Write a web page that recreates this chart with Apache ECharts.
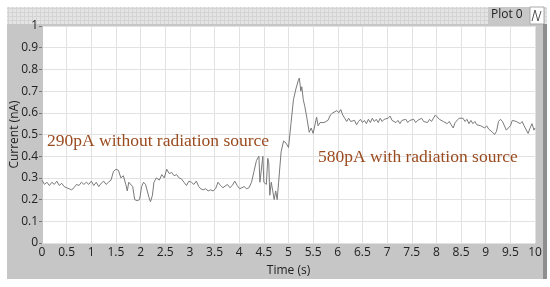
<!DOCTYPE html>
<html>
<head>
<meta charset="utf-8">
<script src="https://cdn.jsdelivr.net/npm/echarts@6/dist/echarts.min.js"></script>
<style>
  html, body { margin: 0; padding: 0; background: #fff; }
  #chart { width: 550px; height: 287px; }
</style>
</head>
<body>
<div id="chart"></div>
<script>
// time (s) and current (nA)
const timeS = [
  0.00, 0.05, 0.10, 0.15, 0.20, 0.25, 0.30, 0.35, 0.40, 0.45, 0.50, 0.55, 0.60, 0.65, 0.70, 0.75, 0.80, 0.85, 0.90, 0.95,
  1.00, 1.05, 1.10, 1.15, 1.20, 1.25, 1.30, 1.35, 1.40, 1.45, 1.50, 1.55, 1.60, 1.65, 1.70, 1.73, 1.76, 1.80, 1.84, 1.88,
  1.93, 1.98, 2.02, 2.06, 2.10, 2.13, 2.17, 2.20, 2.24, 2.27, 2.32, 2.38, 2.43, 2.48, 2.53, 2.58, 2.63, 2.68, 2.73, 2.78,
  2.83, 2.88, 2.93, 2.98, 3.03, 3.08, 3.13, 3.18, 3.22, 3.27, 3.32, 3.37, 3.42, 3.47, 3.52, 3.57, 3.62, 3.67, 3.71, 3.76,
  3.81, 3.86, 3.91, 3.96, 4.01, 4.05, 4.10, 4.15, 4.20, 4.25, 4.30, 4.35, 4.40, 4.42, 4.45, 4.48, 4.50, 4.55, 4.58, 4.60,
  4.62, 4.65, 4.68, 4.71, 4.74, 4.77, 4.80, 4.85, 4.90, 4.95, 5.00, 5.05, 5.10, 5.15, 5.20, 5.22, 5.25, 5.27, 5.30, 5.33,
  5.37, 5.42, 5.46, 5.50, 5.54, 5.57, 5.60, 5.64, 5.68, 5.72, 5.76, 5.80, 5.85, 5.90, 5.94, 5.98, 6.02, 6.06, 6.10, 6.14,
  6.18, 6.22, 6.26, 6.30, 6.34, 6.38, 6.42, 6.46, 6.50, 6.54, 6.58, 6.62, 6.66, 6.70, 6.74, 6.78, 6.82, 6.86, 6.90, 6.94,
  6.98, 7.02, 7.06, 7.10, 7.14, 7.18, 7.22, 7.26, 7.30, 7.34, 7.38, 7.42, 7.46, 7.50, 7.54, 7.58, 7.62, 7.66, 7.70, 7.74,
  7.78, 7.82, 7.86, 7.90, 7.94, 7.98, 8.02, 8.06, 8.10, 8.14, 8.18, 8.22, 8.26, 8.30, 8.34, 8.38, 8.42, 8.46, 8.50, 8.54,
  8.58, 8.62, 8.66, 8.70, 8.74, 8.78, 8.82, 8.86, 8.90, 8.94, 8.98, 9.02, 9.06, 9.10, 9.14, 9.18, 9.22, 9.26, 9.30, 9.34,
  9.38, 9.42, 9.46, 9.50, 9.54, 9.58, 9.62, 9.66, 9.70, 9.74, 9.78, 9.82, 9.86, 9.90, 9.94, 9.98, 10.00
];
const currentNA = [
  0.29, 0.27, 0.28, 0.265, 0.28, 0.27, 0.285, 0.265, 0.275, 0.26, 0.255, 0.25, 0.245, 0.255, 0.27, 0.265, 0.28, 0.27, 0.28, 0.27,
  0.285, 0.265, 0.28, 0.26, 0.275, 0.285, 0.27, 0.28, 0.29, 0.33, 0.34, 0.335, 0.30, 0.31, 0.27, 0.24, 0.28, 0.28, 0.26, 0.20,
  0.195, 0.20, 0.26, 0.28, 0.27, 0.27, 0.21, 0.19, 0.22, 0.28, 0.30, 0.29, 0.315, 0.30, 0.34, 0.32, 0.325, 0.31, 0.315, 0.30,
  0.295, 0.28, 0.265, 0.285, 0.28, 0.27, 0.285, 0.26, 0.25, 0.245, 0.25, 0.24, 0.245, 0.24, 0.25, 0.28, 0.265, 0.255, 0.25, 0.27,
  0.255, 0.265, 0.285, 0.265, 0.25, 0.245, 0.26, 0.25, 0.255, 0.28, 0.33, 0.38, 0.40, 0.28, 0.28, 0.40, 0.28, 0.27, 0.39, 0.37,
  0.22, 0.28, 0.24, 0.20, 0.24, 0.20, 0.28, 0.42, 0.47, 0.46, 0.44, 0.55, 0.66, 0.71, 0.75, 0.76, 0.70, 0.72, 0.66, 0.63,
  0.58, 0.51, 0.53, 0.505, 0.51, 0.58, 0.54, 0.555, 0.55, 0.555, 0.55, 0.565, 0.59, 0.60, 0.595, 0.61, 0.60, 0.615, 0.59, 0.575,
  0.56, 0.575, 0.56, 0.555, 0.565, 0.545, 0.56, 0.57, 0.555, 0.565, 0.55, 0.57, 0.555, 0.575, 0.56, 0.57, 0.555, 0.575, 0.56, 0.57,
  0.565, 0.575, 0.585, 0.565, 0.57, 0.555, 0.565, 0.55, 0.565, 0.56, 0.57, 0.555, 0.565, 0.56, 0.57, 0.555, 0.565, 0.56, 0.575, 0.56,
  0.565, 0.555, 0.57, 0.56, 0.575, 0.59, 0.595, 0.57, 0.575, 0.56, 0.565, 0.55, 0.56, 0.545, 0.53, 0.555, 0.56, 0.575, 0.57, 0.575,
  0.56, 0.57, 0.55, 0.565, 0.55, 0.56, 0.545, 0.55, 0.54, 0.545, 0.53, 0.54, 0.525, 0.53, 0.51, 0.50, 0.515, 0.56, 0.57, 0.56,
  0.565, 0.52, 0.515, 0.54, 0.565, 0.57, 0.56, 0.565, 0.55, 0.56, 0.54, 0.545, 0.505, 0.53, 0.55, 0.52, 0.53
];
const xTicks = [0, 0.5, 1, 1.5, 2, 2.5, 3, 3.5, 4, 4.5, 5, 5.5, 6, 6.5, 7, 7.5, 8, 8.5, 9, 9.5, 10];
const annotations = ['290pA without radiation source', '580pA with radiation source'];

const chart = echarts.init(document.getElementById('chart'));

// small checker pattern for the header strip
const pat = document.createElement('canvas');
pat.width = 4; pat.height = 4;
const pc = pat.getContext('2d');
pc.fillStyle = '#e4e4e4'; pc.fillRect(0, 0, 4, 4);
pc.fillStyle = '#d4d4d4'; pc.fillRect(0, 0, 4, 1); pc.fillRect(0, 0, 1, 4);

const serif = '"Liberation Serif", "DejaVu Serif", serif';
const sans = '"Open Sans", "Noto Sans", sans-serif';

chart.setOption({
  animation: false,
  backgroundColor: '#fff',
  grid: { left: 42, right: 15, top: 26, bottom: 44, outerBoundsMode: 'none', containLabel: false },
  graphic: [
    { type: 'rect', z: -10, silent: true, shape: { x: 7, y: 7, width: 540, height: 272 }, style: { fill: '#c6c6c6' } },
    { type: 'rect', z: -9, silent: true, shape: { x: 42, y: 26, width: 493, height: 217 }, style: { fill: '#ffffff' } },
    { type: 'rect', z: -9, silent: true, shape: { x: 7, y: 7, width: 540, height: 17 }, style: { fill: { image: pat, repeat: 'repeat' } } },
    { type: 'rect', z: -8, silent: true, shape: { x: 488, y: 7, width: 42, height: 17 }, style: { fill: '#c8c8c8' } },
    { type: 'text', z: 5, silent: true, left: 491, top: 9, style: { text: 'Plot 0', fill: '#222', font: '12px ' + sans } },
    { type: 'rect', z: -8, silent: true, shape: { x: 530, y: 7, width: 14, height: 17 }, style: { fill: '#ffffff', stroke: '#aaa', lineWidth: 1 } },
    { type: 'polyline', z: 5, silent: true, shape: { points: [[532, 21], [535, 10], [538, 21], [541, 11]] }, style: { stroke: '#555', lineWidth: 1, fill: null } },
    { type: 'rect', z: 5, silent: true, shape: { x: 543, y: 24, width: 4, height: 255 }, style: { fill: '#8e8e8e' } },
    { type: 'text', z: 5, silent: true, left: 47, top: 132, style: { text: annotations[0], fill: '#9a4b1f', font: '17.5px ' + serif } },
    { type: 'text', z: 5, silent: true, left: 318, top: 148, style: { text: annotations[1], fill: '#9a4b1f', font: '17.5px ' + serif } }
  ],
  xAxis: {
    type: 'value',
    min: 0,
    max: 10,
    interval: 0.5,
    name: 'Time (s)',
    nameLocation: 'middle',
    nameGap: 22,
    nameMoveOverlap: false,
    nameTextStyle: { color: '#222', fontSize: 12, fontFamily: sans },
    axisLine: { show: false },
    axisTick: { show: false },
    axisLabel: { color: '#222', fontSize: 12, fontFamily: sans, margin: 4, formatter: v => xTicks.includes(v) ? String(v) : '' },
    splitLine: { show: true, lineStyle: { color: '#e2e2e2', width: 1 } }
  },
  yAxis: {
    type: 'value',
    min: 0,
    max: 1,
    interval: 0.1,
    name: 'Current (nA)',
    nameLocation: 'middle',
    nameGap: 21,
    nameMoveOverlap: false,
    nameTextStyle: { color: '#222', fontSize: 12, fontFamily: sans },
    axisLine: { show: true, lineStyle: { color: '#c6c6c6' } },
    axisTick: { show: true, length: 3, lineStyle: { color: '#777' } },
    axisLabel: { color: '#222', fontSize: 12, fontFamily: sans, margin: 4, formatter: v => String(+v.toFixed(1)) },
    splitLine: { show: true, lineStyle: { color: '#e2e2e2', width: 1 } }
  },
  series: [{
    type: 'line',
    data: timeS.map((t, i) => [t, currentNA[i]]),
    showSymbol: false,
    lineStyle: { color: '#7a7a7a', width: 1 },
    itemStyle: { color: '#7a7a7a' }
  }]
});
</script>
</body>
</html>
